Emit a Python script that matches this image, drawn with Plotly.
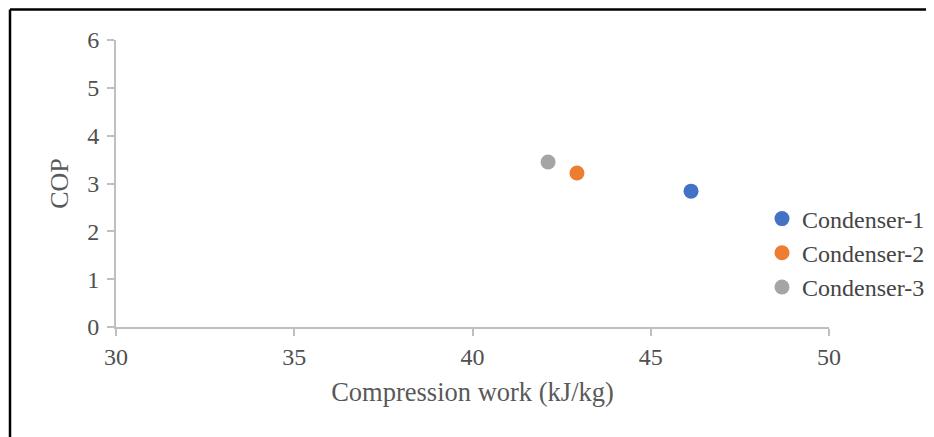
import plotly.graph_objects as go

series_names = ["Condenser-1", "Condenser-2", "Condenser-3"]
compression_work = [46.13, 42.93, 42.12]
cop_values = [2.84, 3.22, 3.45]
colors = ["#4472C4", "#ED7D31", "#A5A5A5"]

x_ticks = [30, 35, 40, 45, 50]
y_ticks = [0, 1, 2, 3, 4, 5, 6]

# page has an 8px body margin, so the figure is offset by (8, 8)
OFF = 8
W, H = 934 - OFF, 437 - OFF
L, T = 116 - OFF, 40 - OFF
R = W - (829 - OFF)
B = H - (327 - OFF)
pw, ph = W - L - R, H - T - B

fig = go.Figure()
for name, xv, yv, c in zip(series_names, compression_work, cop_values, colors):
    fig.add_trace(go.Scatter(x=[xv], y=[yv], mode="markers", name=name,
                             marker=dict(color=c, size=15)))

font_family = "Liberation Serif, Times New Roman, serif"
txt = "#595959"

fig.update_layout(
    width=W, height=H,
    margin=dict(l=L, r=R, t=T, b=B, autoexpand=False),
    paper_bgcolor="white", plot_bgcolor="white",
    font=dict(family=font_family, color=txt, size=24),
    xaxis=dict(range=[30, 50], tickvals=x_ticks, showgrid=False, zeroline=False,
               showline=True, linecolor="#BFBFBF", linewidth=2,
               ticks="outside", ticklen=7, tickcolor="#BFBFBF", tickwidth=2,
               tickfont=dict(size=24, color="#505050"), automargin=False,
               title=dict(text="Compression work (kJ/kg)", font=dict(size=26.5, color=txt), standoff=14)),
    yaxis=dict(range=[0, 6], tickvals=y_ticks, showgrid=False, zeroline=False,
               showline=True, linecolor="#BFBFBF", linewidth=2,
               ticks="outside", ticklen=7, tickcolor="#BFBFBF", tickwidth=2,
               ticklabelstandoff=3,
               tickfont=dict(size=24, color="#505050"), automargin=False,
               title=dict(text="COP", font=dict(size=26, color=txt), standoff=11)),
    legend=dict(xref="container", yref="container",
                x=(762 - OFF) / W, y=1 - (253 - OFF) / H, xanchor="left", yanchor="middle",
                font=dict(size=24, color="#454545"), itemwidth=30, bgcolor="rgba(0,0,0,0)",
                tracegroupgap=0),
    showlegend=True,
)

# outer frame: top and left edges of the chart border
top_y = (T + ph - (9.5 - OFF)) / ph
left_x = ((10 - OFF) - L) / pw
fig.add_shape(type="line", xref="paper", yref="paper",
              x0=left_x, x1=(W - L) / pw + 0.01, y0=top_y, y1=top_y,
              line=dict(color="black", width=2.5))
fig.add_shape(type="line", xref="paper", yref="paper",
              x0=left_x, x1=left_x, y0=top_y, y1=(T + ph - H - 5) / ph,
              line=dict(color="black", width=2.5))

fig.write_html("out.html")
